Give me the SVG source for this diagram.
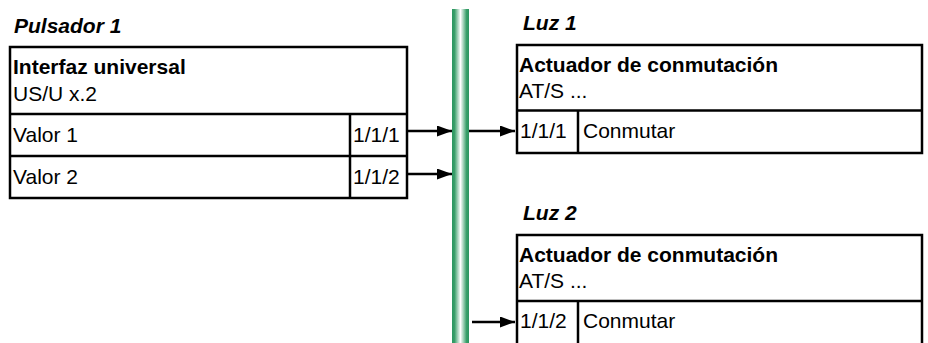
<svg xmlns="http://www.w3.org/2000/svg" width="928" height="343" viewBox="0 0 928 343">
<style>
.box{fill:#fff;stroke:#000;stroke-width:2.5}
.ln{stroke:#000;stroke-width:2.5;fill:none}
.t{font-family:"Liberation Sans",Arial,sans-serif;font-size:21px;fill:#000}
.b{font-weight:bold}
.bi{font-weight:bold;font-style:italic}
.c{stroke:#000;stroke-width:2.5;fill:none}
</style>
<defs>
<linearGradient id="bus" x1="0" y1="0" x2="1" y2="0">
<stop offset="0" stop-color="#2a9660"/>
<stop offset="0.15" stop-color="#3a9f6a"/>
<stop offset="0.5" stop-color="#ffffff"/>
<stop offset="0.85" stop-color="#3a9f6a"/>
<stop offset="1" stop-color="#2a9660"/>
</linearGradient>
<marker id="ah" markerUnits="userSpaceOnUse" markerWidth="16" markerHeight="12" refX="15" refY="5.5" orient="auto">
<path d="M0,0 L15,5.5 L0,11 z" fill="#000"/>
</marker>
</defs>
<rect id="bus-line" x="452" y="9" width="17" height="334" fill="url(#bus)"/>
<g id="pulsador1">
<text class="t bi" x="14" y="33">Pulsador 1</text>
<rect class="box" x="10" y="47" width="397" height="151"/>
<line class="ln" x1="10" y1="114" x2="407" y2="114"/>
<line class="ln" x1="10" y1="156" x2="407" y2="156"/>
<line class="ln" x1="350" y1="114" x2="350" y2="198"/>
<text class="t b" x="13" y="74">Interfaz universal</text>
<text class="t" x="13" y="101">US/U x.2</text>
<text class="t" x="13" y="142">Valor 1</text>
<text class="t" x="13" y="184">Valor 2</text>
<text class="t" x="353" y="142">1/1/1</text>
<text class="t" x="353" y="184">1/1/2</text>
</g>
<g id="luz1">
<text class="t bi" x="523" y="30">Luz 1</text>
<rect class="box" x="517" y="45" width="405" height="108"/>
<line class="ln" x1="517" y1="110.5" x2="922" y2="110.5"/>
<line class="ln" x1="578" y1="110.5" x2="578" y2="153"/>
<text class="t b" x="519" y="72">Actuador de conmutación</text>
<text class="t" x="519" y="98">AT/S ...</text>
<text class="t" x="520" y="138">1/1/1</text>
<text class="t" x="583" y="138">Conmutar</text>
</g>
<g id="luz2">
<text class="t bi" x="523" y="220">Luz 2</text>
<rect class="box" x="517" y="235" width="405" height="120"/>
<line class="ln" x1="517" y1="301" x2="922" y2="301"/>
<line class="ln" x1="578" y1="301" x2="578" y2="345"/>
<text class="t b" x="519" y="262">Actuador de conmutación</text>
<text class="t" x="519" y="288">AT/S ...</text>
<text class="t" x="520" y="328">1/1/2</text>
<text class="t" x="583" y="328">Conmutar</text>
</g>
<g id="connectors">
<line class="c" x1="408" y1="131" x2="452" y2="131" marker-end="url(#ah)"/>
<line class="c" x1="408" y1="174" x2="452" y2="174" marker-end="url(#ah)"/>
<line class="c" x1="469" y1="131" x2="515" y2="131" marker-end="url(#ah)"/>
<line class="c" x1="472" y1="322" x2="515" y2="322" marker-end="url(#ah)"/>
</g>
</svg>
